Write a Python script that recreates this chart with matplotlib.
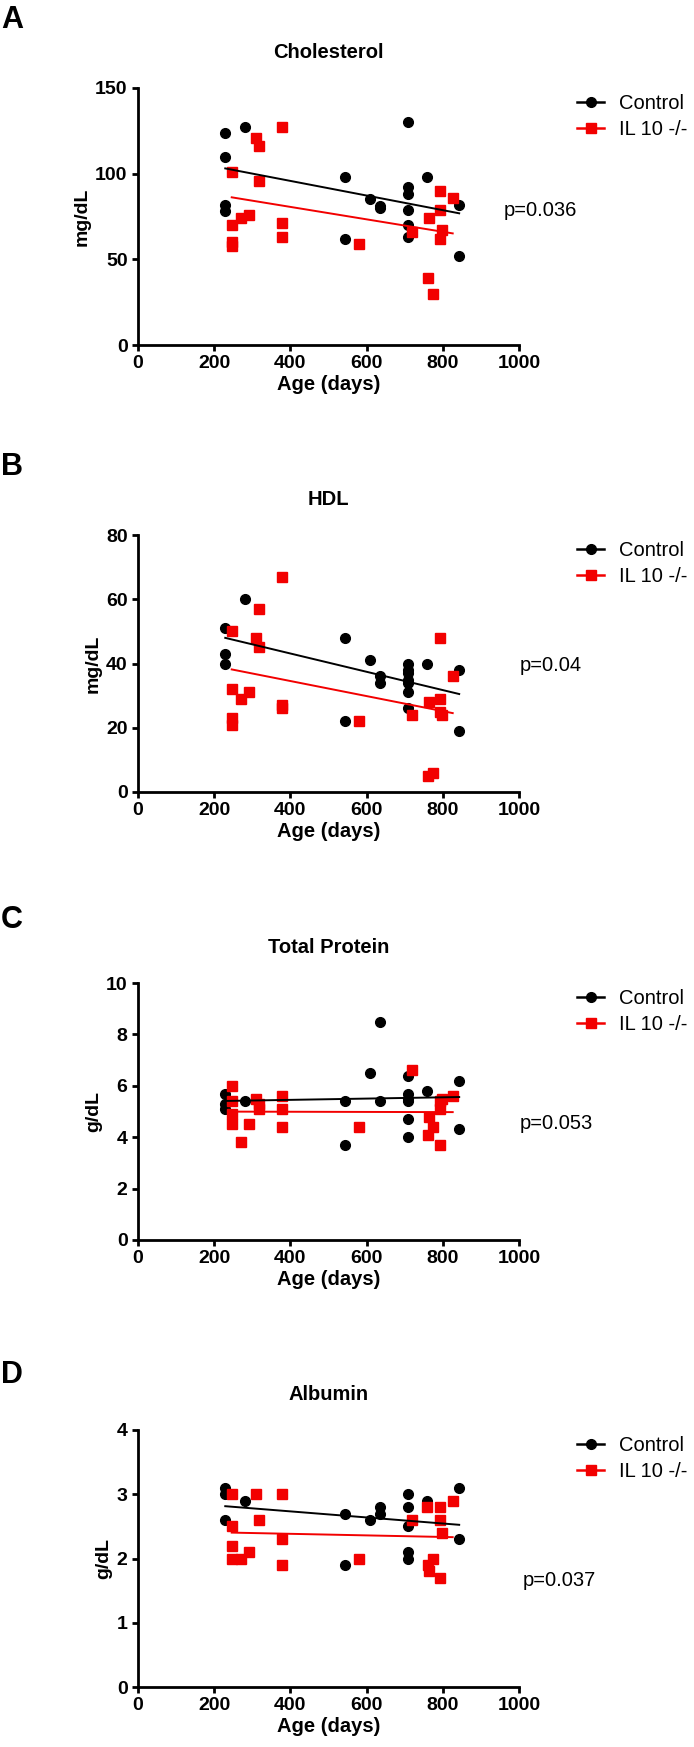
import numpy as np
import matplotlib
matplotlib.use("Agg")
import matplotlib.pyplot as plt
from matplotlib.lines import Line2D

plt.rcParams["font.family"] = ["Liberation Sans", "DejaVu Sans"]

# ---- data (age in days) ----
chol_ctrl_age = [229, 229, 229, 229, 281, 542, 542, 608, 634, 634, 708, 708, 708, 708, 708, 708, 758, 843, 843]
chol_ctrl = [124, 110, 82, 78, 127, 98, 62, 85, 81, 80, 130, 92, 88, 79, 70, 63, 98, 82, 52]
chol_il10_age = [246, 246, 246, 246, 270, 291, 311, 317, 317, 379, 379, 379, 581, 719, 762, 765, 774, 793, 793, 793, 798, 826]
chol_il10 = [101, 70, 60, 58, 74, 76, 121, 116, 96, 127, 71, 63, 59, 66, 39, 74, 30, 90, 79, 62, 67, 86]

hdl_ctrl_age = [229, 229, 229, 281, 542, 542, 608, 634, 634, 708, 708, 708, 708, 708, 708, 708, 758, 843, 843]
hdl_ctrl = [51, 43, 40, 60, 48, 22, 41, 36, 34, 40, 38, 37, 35, 34, 31, 26, 40, 38, 19]
hdl_il10_age = [246, 246, 246, 246, 270, 291, 311, 317, 317, 379, 379, 379, 581, 719, 762, 765, 774, 793, 793, 793, 798, 826]
hdl_il10 = [50, 32, 23, 21, 29, 31, 48, 57, 45, 67, 27, 26, 22, 24, 5, 28, 6, 48, 29, 25, 24, 36]

tp_ctrl_age = [229, 229, 229, 281, 542, 542, 608, 634, 634, 708, 708, 708, 708, 708, 708, 758, 843, 843]
tp_ctrl = [5.7, 5.3, 5.1, 5.4, 5.4, 3.7, 6.5, 8.5, 5.4, 6.4, 5.7, 5.5, 5.4, 4.7, 4.0, 5.8, 6.2, 4.3]
tp_il10_age = [246, 246, 246, 246, 270, 291, 311, 317, 317, 379, 379, 379, 581, 719, 762, 765, 774, 793, 793, 793, 798, 826]
tp_il10 = [6.0, 5.4, 4.9, 4.5, 3.8, 4.5, 5.5, 5.3, 5.1, 5.6, 5.1, 4.4, 4.4, 6.6, 4.1, 4.8, 4.4, 5.4, 5.1, 3.7, 5.5, 5.6]

alb_ctrl_age = [229, 229, 229, 281, 542, 542, 608, 634, 634, 708, 708, 708, 708, 708, 758, 843, 843]
alb_ctrl = [3.1, 3.0, 2.6, 2.9, 2.7, 1.9, 2.6, 2.8, 2.7, 3.0, 2.8, 2.5, 2.1, 2.0, 2.9, 3.1, 2.3]
alb_il10_age = [246, 246, 246, 246, 270, 291, 311, 317, 379, 379, 379, 581, 719, 758, 762, 765, 774, 793, 793, 793, 798, 826]
alb_il10 = [3.0, 2.5, 2.2, 2.0, 2.0, 2.1, 3.0, 2.6, 3.0, 2.3, 1.9, 2.0, 2.6, 2.8, 1.9, 1.8, 2.0, 2.8, 2.6, 1.7, 2.4, 2.9]

letters = ["A", "B", "C", "D"]
titles = ["Cholesterol", "HDL", "Total Protein", "Albumin"]
units = ["mg/dL", "mg/dL", "g/dL", "g/dL"]
y_ticks = [[0, 50, 100, 150], [0, 20, 40, 60, 80], [0, 2, 4, 6, 8, 10], [0, 1, 2, 3, 4]]
p_labels = ["p=0.036", "p=0.04", "p=0.053", "p=0.037"]
x_ticks = [0, 200, 400, 600, 800, 1000]

panels = [
    (chol_ctrl_age, chol_ctrl, chol_il10_age, chol_il10),
    (hdl_ctrl_age, hdl_ctrl, hdl_il10_age, hdl_il10),
    (tp_ctrl_age, tp_ctrl, tp_il10_age, tp_il10),
    (alb_ctrl_age, alb_ctrl, alb_il10_age, alb_il10),
]

# ---- layout (pixels) ----
W, H = 694, 1747
AX_LEFT, AX_W, AX_H = 138, 381, 257
ax_tops = [88, 535, 983, 1430]
letter_base = [28, 475, 928, 1383]
p_pos = [(0.961, 0.525), (1.003, 0.494), (1.003, 0.453), (1.010, 0.414)]

RED = "#f20000"

fig = plt.figure(figsize=(W / 100, H / 100), dpi=100)

for i, (c_age, c_val, r_age, r_val) in enumerate(panels):
    top = ax_tops[i]
    ax = fig.add_axes([AX_LEFT / W, 1 - (top + AX_H) / H, AX_W / W, AX_H / H])

    ax.plot(c_age, c_val, "o", color="black", ms=7, clip_on=False, zorder=3)
    ax.plot(r_age, r_val, "s", color=RED, ms=7, clip_on=False, zorder=3)

    # linear fits
    for age, val, col in [(c_age, c_val, "black"), (r_age, r_val, RED)]:
        k, b = np.polyfit(age, val, 1)
        xs = np.array([min(age), max(age)])
        ax.plot(xs, k * xs + b, color=col, lw=1.4, zorder=4)

    ax.set_xlim(0, 1000)
    ax.set_ylim(0, y_ticks[i][-1])
    ax.set_xticks(x_ticks)
    ax.set_yticks(y_ticks[i])
    plt.setp(ax.get_xticklabels() + ax.get_yticklabels(), fontweight="bold")

    ax.spines[["top", "right"]].set_visible(False)
    ax.spines[["left", "bottom"]].set_linewidth(2)
    ax.tick_params(width=2, length=4.5, labelsize=14, pad=3)

    ax.set_xlabel("Age (days)", fontsize=14.5, fontweight="bold", labelpad=2)
    ax.set_ylabel(units[i], fontsize=14, fontweight="bold", labelpad=3)

    ax.text(0.5, 1.117, titles[i], transform=ax.transAxes, ha="center",
            va="baseline", fontsize=14.5, fontweight="bold")

    handles = [
        Line2D([], [], color="black", marker="o", ms=7, lw=1.8),
        Line2D([], [], color=RED, marker="s", ms=7, lw=1.8),
    ]
    ax.legend(handles, ["Control", "IL 10 -/-"], loc="upper left",
              bbox_to_anchor=((577 - AX_LEFT) / AX_W, 0.975), frameon=False,
              borderpad=0, borderaxespad=0, handlelength=1.35,
              handletextpad=0.75, labelspacing=0.35, fontsize=14.5)

    ax.text(p_pos[i][0], p_pos[i][1], p_labels[i], transform=ax.transAxes,
            ha="left", va="center", fontsize=14.5)

    fig.text(1 / W, 1 - letter_base[i] / H, letters[i], fontsize=22,
             fontweight="bold", va="baseline")

fig.savefig("out.png", dpi=100)
